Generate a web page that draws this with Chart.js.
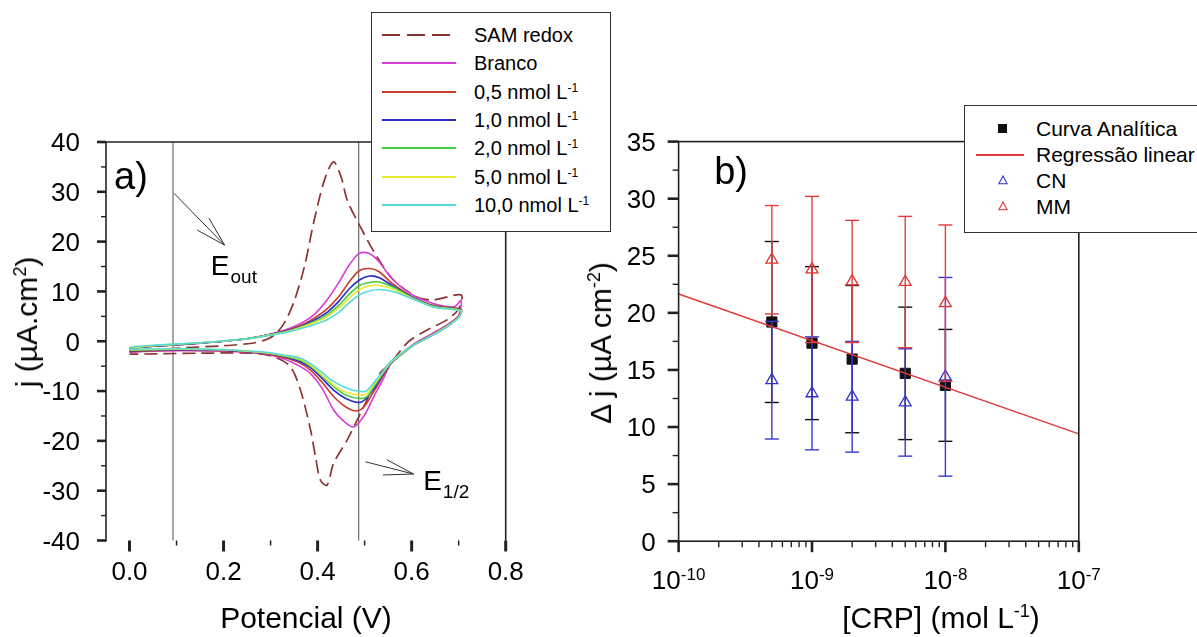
<!DOCTYPE html>
<html>
<head>
<meta charset="utf-8">
<title>Voltametria e curva analítica</title>
<script src="https://cdn.jsdelivr.net/npm/chart.js@4.4.1/dist/chart.umd.min.js"></script>
<style>
  html, body { margin: 0; padding: 0; background: #fff; }
  body { position: relative; width: 1197px; height: 637px; overflow: hidden;
         font-family: "Liberation Sans", Arial, sans-serif; color: #000; }
  canvas { position: absolute; top: 0; }
  #chartA { left: 0; }
  #chartB { left: 560px; }
  .txt { position: absolute; white-space: nowrap; line-height: 1; }
  sup { font-size: 0.6em; vertical-align: 0.62em; line-height: 0; }
  .box { position: absolute; background: #fff; border: 1.6px solid #333; box-sizing: border-box; }
  .row { position: absolute; left: 0; right: 0; height: 24px; }
  .row span { position: absolute; top: 0; line-height: 24px; white-space: nowrap; }
  .row i { position: absolute; display: block; }
</style>
</head>
<body>
<canvas id="chartA" width="560" height="637"></canvas>
<canvas id="chartB" width="637" height="637"></canvas>

<div class="txt" style="left:306px;top:603px;font-size:30px;transform:translateX(-50%)">Potencial (V)</div>
<div class="txt" style="left:27px;top:322px;font-size:30px;transform:translate(-50%,-50%) rotate(-90deg)">j (µA.cm<sup>2</sup>)</div>
<div class="txt" style="left:941px;top:603px;font-size:30px;transform:translateX(-50%)">[CRP] (mol L<sup>-1</sup>)</div>
<div class="txt" style="left:601px;top:343px;font-size:30px;transform:translate(-50%,-50%) rotate(-90deg)">&Delta; j (µA cm<sup>-2</sup>)</div>

<div class="box" id="legA" style="left:371px;top:12px;width:240px;height:220px;font-size:20px"></div>
<div class="box" id="legB" style="left:964px;top:105px;width:260px;height:128px;font-size:21px"></div>

<script>
// ---------- a) voltamogramas: potencial (V) x j (uA cm-2), ida + volta ----------
const samV = [0, 0.1, 0.2, 0.26, 0.29, 0.31, 0.33, 0.35, 0.372, 0.392, 0.415, 0.434, 0.45, 0.463, 0.489, 0.526, 0.5615, 0.611, 0.646, 0.705,
              0.70, 0.675, 0.632, 0.593, 0.555, 0.533, 0.505, 0.491, 0.463, 0.434, 0.42, 0.406, 0.3955, 0.385, 0.3635, 0.342, 0.307, 0.257, 0.151, 0];
const samJ = [-2.2, -1.4, -0.9, -0.4, 0.3, 1.4, 3.8, 8.0, 15.0, 24.0, 32.5, 36.0, 33.0, 28.3, 23.3, 17.0, 12.3, 8.9, 8.3, 9.3,
              6.5, 4.3, 2.2, -0.1, -4.4, -6.4, -11.8, -14.5, -19.8, -24.5, -28.9, -27.9, -23.2, -17.8, -9.8, -5.1, -3.1, -2.4, -2.4, -2.6];

const brancoV = [0, 0.05, 0.15, 0.25, 0.3, 0.335, 0.363, 0.392, 0.42, 0.445, 0.468, 0.489, 0.51, 0.53, 0.56, 0.6, 0.646, 0.69, 0.705,
                 0.70, 0.68, 0.66, 0.63, 0.604, 0.58, 0.555, 0.54, 0.52, 0.5, 0.477, 0.455, 0.434, 0.41, 0.385, 0.3635, 0.33, 0.29, 0.2, 0.1, 0];
const brancoJ = [-1.4, -1.0, -0.4, 0.5, 1.4, 2.4, 3.5, 5.3, 8.3, 11.8, 15.4, 17.7, 17.6, 16.0, 12.4, 9.4, 7.6, 6.9, 8.2,
                 5.2, 3.6, 2.4, 0.8, -0.6, -2.4, -4.6, -7.5, -11.0, -14.8, -17.2, -16.0, -13.8, -9.5, -6.5, -5.1, -3.6, -2.6, -2.0, -1.9, -2.1];

const c05V = [0, 0.05, 0.15, 0.25, 0.3, 0.335, 0.363, 0.392, 0.42, 0.445, 0.468, 0.489, 0.51, 0.53, 0.56, 0.6, 0.646, 0.705,
              0.70, 0.68, 0.66, 0.63, 0.604, 0.58, 0.555, 0.54, 0.52, 0.5, 0.484, 0.46, 0.434, 0.41, 0.385, 0.3635, 0.33, 0.29, 0.2, 0.1, 0];
const c05J = [-1.4, -1.0, -0.4, 0.5, 1.4, 2.2, 3.1, 4.6, 6.5, 9.0, 12.0, 14.2, 14.6, 14.0, 11.5, 9.0, 7.2, 6.4,
              5.0, 3.4, 2.2, 0.6, -0.8, -2.5, -4.5, -6.8, -10.0, -13.0, -14.0, -13.2, -11.1, -8.3, -5.8, -4.4, -3.3, -2.5, -1.9, -1.8, -2.0];

const c10V = [0, 0.05, 0.15, 0.25, 0.3, 0.335, 0.363, 0.392, 0.42, 0.445, 0.468, 0.489, 0.51, 0.53, 0.56, 0.6, 0.646, 0.705,
              0.70, 0.68, 0.66, 0.63, 0.604, 0.58, 0.555, 0.54, 0.52, 0.5, 0.487, 0.46, 0.434, 0.41, 0.385, 0.3635, 0.33, 0.29, 0.2, 0.1, 0];
const c10J = [-1.4, -1.0, -0.4, 0.5, 1.4, 2.1, 2.9, 4.2, 5.8, 8.0, 10.6, 12.3, 13.1, 12.8, 11.1, 8.9, 7.0, 6.3,
              4.9, 3.3, 2.1, 0.5, -0.8, -2.5, -4.5, -6.5, -9.5, -11.8, -12.3, -11.5, -9.8, -7.5, -5.3, -4.1, -3.1, -2.4, -1.8, -1.7, -1.9];

const c20V = [0, 0.05, 0.15, 0.25, 0.3, 0.335, 0.363, 0.392, 0.42, 0.445, 0.468, 0.489, 0.51, 0.53, 0.56, 0.6, 0.646, 0.705,
              0.70, 0.68, 0.66, 0.63, 0.604, 0.58, 0.555, 0.54, 0.52, 0.505, 0.489, 0.46, 0.434, 0.41, 0.385, 0.3635, 0.33, 0.29, 0.2, 0.1, 0];
const c20J = [-1.3, -0.9, -0.3, 0.5, 1.3, 2.0, 2.8, 3.9, 5.3, 7.2, 9.5, 11.2, 11.8, 11.9, 10.9, 8.8, 7.0, 6.2,
              4.8, 3.3, 2.1, 0.5, -0.8, -2.5, -4.4, -6.3, -9.1, -11.1, -11.5, -10.8, -9.1, -7.0, -5.0, -3.8, -3.0, -2.3, -1.7, -1.6, -1.8];

const c50V = [0, 0.05, 0.15, 0.25, 0.3, 0.335, 0.363, 0.392, 0.42, 0.445, 0.468, 0.489, 0.51, 0.53, 0.56, 0.6, 0.646, 0.705,
              0.70, 0.68, 0.66, 0.63, 0.604, 0.58, 0.555, 0.54, 0.52, 0.505, 0.49, 0.46, 0.434, 0.41, 0.385, 0.3635, 0.33, 0.29, 0.2, 0.1, 0];
const c50J = [-1.3, -0.9, -0.3, 0.5, 1.3, 1.9, 2.7, 3.7, 4.9, 6.7, 8.7, 10.4, 11.1, 11.2, 10.5, 8.7, 6.9, 6.1,
              4.8, 3.3, 2.1, 0.5, -0.8, -2.4, -4.3, -6.1, -8.7, -10.5, -10.8, -10.2, -8.8, -6.8, -4.8, -3.6, -2.9, -2.3, -1.7, -1.6, -1.7];

const c100V = [0, 0.05, 0.15, 0.25, 0.3, 0.335, 0.363, 0.392, 0.42, 0.445, 0.468, 0.489, 0.51, 0.53, 0.56, 0.6, 0.646, 0.705,
               0.70, 0.68, 0.66, 0.63, 0.604, 0.58, 0.555, 0.54, 0.52, 0.505, 0.494, 0.47, 0.434, 0.41, 0.385, 0.3635, 0.33, 0.29, 0.2, 0.1, 0];
const c100J = [-1.2, -0.8, -0.3, 0.5, 1.2, 1.8, 2.5, 3.3, 4.3, 5.8, 7.8, 9.3, 10.1, 10.4, 10.0, 8.6, 6.9, 6.0,
               4.7, 3.2, 2.0, 0.5, -0.8, -2.3, -4.1, -5.9, -8.3, -9.9, -10.1, -9.7, -8.1, -6.3, -4.5, -3.4, -2.8, -2.2, -1.7, -1.5, -1.6];

const cvLabels = ['SAM redox', 'Branco', '0,5 nmol L-1', '1,0 nmol L-1', '2,0 nmol L-1', '5,0 nmol L-1', '10,0 nmol L-1'];
const markerV = [0.0925, 0.4873];          // E_out e E_1/2
const xTicksA = [0, 0.2, 0.4, 0.6, 0.8];
const yTicksA = [-40, -30, -20, -10, 0, 10, 20, 30, 40];

// ---------- b) curva analítica ----------
const crp = [5e-10, 1e-9, 2e-9, 5e-9, 1e-8];
const curva = [19.2, 17.35, 15.95, 14.7, 13.65];
const curvaErr = [7.05, 6.7, 6.45, 5.8, 4.9];
const cn = [14.1, 12.95, 12.65, 12.15, 14.4];
const cnErr = [5.15, 4.95, 4.85, 4.7, 8.7];
const mm = [24.65, 23.8, 22.75, 22.7, 20.85];
const mmErr = [4.75, 6.4, 5.35, 5.75, 6.85];
const regX = [1e-10, 1e-7];
const regY = [21.65, 9.4];
const yTicksB = [0, 5, 10, 15, 20, 25, 30, 35];
const xDecadesB = [-10, -9, -8, -7];

const FONT = '"Liberation Sans", Arial, sans-serif';

const cvStyle = [
    { color: '#8c3333', dash: [13, 6] },
    { color: '#d83cd8' },
    { color: '#c83a2c' },
    { color: '#2b2bc6' },
    { color: '#44cc44' },
    { color: '#e8e832' },
    { color: '#55dada' },
];
const cvData = [[samV, samJ], [brancoV, brancoJ], [c05V, c05J], [c10V, c10J], [c20V, c20J], [c50V, c50J], [c100V, c100J]];

function pts(xs, ys) {
    return xs.map((v, i) => ({ x: v, y: ys[i] }));
}

function seg(ctx, x1, y1, x2, y2) {
    ctx.beginPath();
    ctx.moveTo(x1, y1);
    ctx.lineTo(x2, y2);
    ctx.stroke();
}

function subText(ctx, main, sub, px, py, size, subSize, drop) {
    ctx.font = size + 'px ' + FONT;
    ctx.fillText(main, px, py);
    const w = ctx.measureText(main).width;
    ctx.font = subSize + 'px ' + FONT;
    ctx.fillText(sub, px + w + 1, py + drop);
}

// annotations of panel a, in data units
const annotA = [
    { from: [0.0947, 29.7], tip: [0.2022, 19.3], heads: [[0.169, 24.7], [0.1443, 22.3]], at: [0.173, 13.3], sub: 'out' },
    { from: [0.5017, -24.2], tip: [0.604, -26.65], heads: [[0.5475, -23.8], [0.539, -26.85]], at: [0.6245, -29.9], sub: '1/2' },
];

const frameA = {
    id: 'frameA',
    beforeDatasetsDraw(chart) {
        const { ctx, chartArea: a, scales: { x } } = chart;
        ctx.save();
        ctx.strokeStyle = '#777';
        ctx.lineWidth = 1.3;
        markerV.forEach(v => {
            const px = x.getPixelForValue(v);
            seg(ctx, px, a.top, px, a.bottom);
        });
        ctx.restore();
    },
    afterDraw(chart) {
        const { ctx, chartArea: a, scales: { x, y } } = chart;
        ctx.save();
        ctx.strokeStyle = '#222';
        ctx.lineWidth = 1.6;
        seg(ctx, a.left, a.bottom + 1, a.left, a.top);
        seg(ctx, a.left, a.top, a.right, a.top);
        seg(ctx, a.right, a.top, a.right, a.bottom);

        // ticks
        for (let v = -40; v <= 40; v += 5) {
            const py = y.getPixelForValue(v);
            const major = v % 10 === 0;
            ctx.lineWidth = major ? 2.6 : 1.4;
            seg(ctx, a.left - (major ? 9 : 5), py, a.left, py);
        }
        xTicksA.forEach((v, i) => {
            ctx.lineWidth = 3;
            let px = x.getPixelForValue(v);
            seg(ctx, px, a.bottom, px, a.bottom + 11);
            if (i < xTicksA.length - 1) {
                px = x.getPixelForValue(v + 0.1);
                ctx.lineWidth = 1.5;
                seg(ctx, px, a.bottom, px, a.bottom + 5);
            }
        });

        // tick labels
        ctx.fillStyle = '#000';
        ctx.font = '26px ' + FONT;
        ctx.textAlign = 'right';
        yTicksA.forEach(v => ctx.fillText(String(v), a.left - 26, y.getPixelForValue(v) + 9.3));
        ctx.textAlign = 'center';
        xTicksA.forEach(v => ctx.fillText(v.toFixed(1), x.getPixelForValue(v), a.bottom + 39.5));

        // arrows + labels
        ctx.textAlign = 'left';
        ctx.strokeStyle = '#333';
        ctx.lineWidth = 1;
        annotA.forEach(n => {
            const tx = x.getPixelForValue(n.tip[0]), ty = y.getPixelForValue(n.tip[1]);
            seg(ctx, x.getPixelForValue(n.from[0]), y.getPixelForValue(n.from[1]), tx, ty);
            n.heads.forEach(h => seg(ctx, x.getPixelForValue(h[0]), y.getPixelForValue(h[1]), tx, ty));
            subText(ctx, 'E', n.sub, x.getPixelForValue(n.at[0]), y.getPixelForValue(n.at[1]), 28, 19, 8);
        });
        ctx.font = '38px ' + FONT;
        ctx.fillText('a)', x.getPixelForValue(-0.033), y.getPixelForValue(30.5));
        ctx.restore();
    }
};

const errorBars = {
    id: 'errorBars',
    afterDatasetDraw(chart, args) {
        const ds = chart.data.datasets[args.index];
        if (!ds.errors) return;
        const { ctx, scales: { x, y } } = chart;
        ctx.save();
        ctx.strokeStyle = ds.errColor;
        ctx.lineWidth = 1.4;
        ds.data.forEach((p, i) => {
            const px = x.getPixelForValue(p.x);
            const top = y.getPixelForValue(p.y + ds.errors[i]);
            const bot = y.getPixelForValue(p.y - ds.errors[i]);
            seg(ctx, px, top, px, bot);
            seg(ctx, px - 7, top, px + 7, top);
            seg(ctx, px - 7, bot, px + 7, bot);
        });
        ctx.restore();
    }
};

const frameB = {
    id: 'frameB',
    afterDraw(chart) {
        const { ctx, chartArea: a, scales: { x, y } } = chart;
        ctx.save();
        ctx.strokeStyle = '#222';
        ctx.lineWidth = 1.6;
        ctx.strokeRect(a.left, a.top, a.right - a.left, a.bottom - a.top);

        for (let v = 0; v <= 35; v += 2.5) {
            const py = y.getPixelForValue(v);
            const major = v % 5 === 0;
            ctx.lineWidth = major ? 2.6 : 1.4;
            seg(ctx, a.left - (major ? 11 : 6), py, a.left, py);
        }
        xDecadesB.forEach((d, i) => {
            ctx.lineWidth = 2.6;
            let px = x.getPixelForValue(Math.pow(10, d));
            seg(ctx, px, a.bottom, px, a.bottom + 11);
            if (i < xDecadesB.length - 1) {
                ctx.lineWidth = 1.4;
                for (let m = 2; m <= 9; m++) {
                    px = x.getPixelForValue(m * Math.pow(10, d));
                    seg(ctx, px, a.bottom, px, a.bottom + 6);
                }
            }
        });

        ctx.fillStyle = '#000';
        ctx.font = '26px ' + FONT;
        ctx.textAlign = 'right';
        yTicksB.forEach(v => ctx.fillText(String(v), a.left - 23, y.getPixelForValue(v) + 9.3));

        ctx.textAlign = 'left';
        xDecadesB.forEach(d => {
            const exp = String(d);
            ctx.font = '26px ' + FONT;
            const w1 = ctx.measureText('10').width;
            ctx.font = '17px ' + FONT;
            const w2 = ctx.measureText(exp).width;
            const px = x.getPixelForValue(Math.pow(10, d)) - (w1 + w2) / 2;
            ctx.font = '26px ' + FONT;
            ctx.fillText('10', px, a.bottom + 48);
            ctx.font = '17px ' + FONT;
            ctx.fillText(exp, px + w1, a.bottom + 39);
        });

        ctx.font = '38px ' + FONT;
        ctx.fillText('b)', x.getPixelForValue(1.85e-10), y.getPixelForValue(31.3));
        ctx.restore();
    }
};

new Chart(document.getElementById('chartA'), {
    type: 'scatter',
    data: {
        datasets: cvData.map((d, i) => ({
            label: cvLabels[i],
            data: pts(d[0], d[1]),
            showLine: true,
            borderColor: cvStyle[i].color,
            borderDash: cvStyle[i].dash || [],
            borderWidth: i === 0 ? 1.7 : 1.6,
            pointRadius: 0,
            tension: 0.3,
            order: cvData.length - i,
        }))
    },
    options: {
        responsive: false,
        animation: false,
        events: [],
        layout: { padding: { left: 106, right: 54.3, top: 142, bottom: 96.5 } },
        plugins: { legend: { display: false }, tooltip: { enabled: false } },
        scales: {
            x: { type: 'linear', min: -0.05, max: 0.8, display: false },
            y: { type: 'linear', min: -40, max: 40, display: false },
        }
    },
    plugins: [frameA]
});

new Chart(document.getElementById('chartB'), {
    type: 'scatter',
    data: {
        datasets: [{
            label: 'Regressão linear',
            data: pts(regX, regY),
            showLine: true,
            borderColor: '#e03a3a',
            borderWidth: 1.5,
            pointRadius: 0,
            order: 1,
        }, {
            label: 'MM',
            data: pts(crp, mm),
            errors: mmErr,
            errColor: '#e83c3c',
            pointStyle: 'triangle',
            pointRadius: 6.8,
            borderColor: '#e03030',
            backgroundColor: 'rgba(0,0,0,0)',
            borderWidth: 1.3,
            order: 2,
        }, {
            label: 'CN',
            data: pts(crp, cn),
            errors: cnErr,
            errColor: '#3a3ad2',
            pointStyle: 'triangle',
            pointRadius: 6.8,
            borderColor: '#3030cc',
            backgroundColor: 'rgba(0,0,0,0)',
            borderWidth: 1.3,
            order: 3,
        }, {
            label: 'Curva Analítica',
            data: pts(crp, curva),
            errors: curvaErr,
            errColor: '#111',
            pointStyle: 'rect',
            pointRadius: 7.2,
            borderColor: '#111',
            backgroundColor: '#111',
            borderWidth: 1,
            order: 4,
        }]
    },
    options: {
        responsive: false,
        animation: false,
        events: [],
        layout: { padding: { left: 118.6, right: 118.2, top: 141.6, bottom: 95.8 } },
        plugins: { legend: { display: false }, tooltip: { enabled: false } },
        scales: {
            x: { type: 'logarithmic', min: 1e-10, max: 1e-7, display: false },
            y: { type: 'linear', min: 0, max: 35, display: false },
        }
    },
    plugins: [errorBars, frameB]
});

// ---------- legends (html, so L-1 can carry a real superscript) ----------
function supLabel(t) {
    return t.replace(/L-1$/, 'L<sup>-1</sup>');
}

const legA = document.getElementById('legA');
cvLabels.forEach((t, i) => {
    const row = document.createElement('div');
    row.className = 'row';
    row.style.top = Math.round(10 + i * 28.33) + 'px';
    const key = document.createElement('i');
    key.style.left = '10px';
    key.style.top = '11px';
    key.style.width = '74px';
    key.style.height = '2px';
    const c = cvStyle[i].color;
    key.style.background = cvStyle[i].dash
        ? 'repeating-linear-gradient(90deg,' + c + ' 0 18px, transparent 18px 25px)'
        : c;
    row.appendChild(key);
    const s = document.createElement('span');
    s.style.left = '102px';
    s.innerHTML = supLabel(t);
    row.appendChild(s);
    legA.appendChild(row);
});

const legBItems = [
    { text: 'Curva Analítica', key: '<i style="left:33px;top:7px;width:9px;height:9px;background:#111"></i>' },
    { text: 'Regressão linear', key: '<i style="left:11px;top:11px;width:48px;height:2px;background:#e03a3a"></i>' },
    { text: 'CN', key: '<svg style="position:absolute;left:33px;top:6px" width="10" height="10"><polygon points="5,1 9.2,8.8 0.8,8.8" fill="none" stroke="#3030cc" stroke-width="1.1"/></svg>' },
    { text: 'MM', key: '<svg style="position:absolute;left:33px;top:6px" width="10" height="10"><polygon points="5,1 9.2,8.8 0.8,8.8" fill="none" stroke="#e03030" stroke-width="1.1"/></svg>' },
];
const legB = document.getElementById('legB');
legBItems.forEach((it, i) => {
    const row = document.createElement('div');
    row.className = 'row';
    row.style.top = Math.round(11 + i * 26) + 'px';
    row.innerHTML = it.key + '<span style="left:71px">' + it.text + '</span>';
    legB.appendChild(row);
});
</script>
</body>
</html>
